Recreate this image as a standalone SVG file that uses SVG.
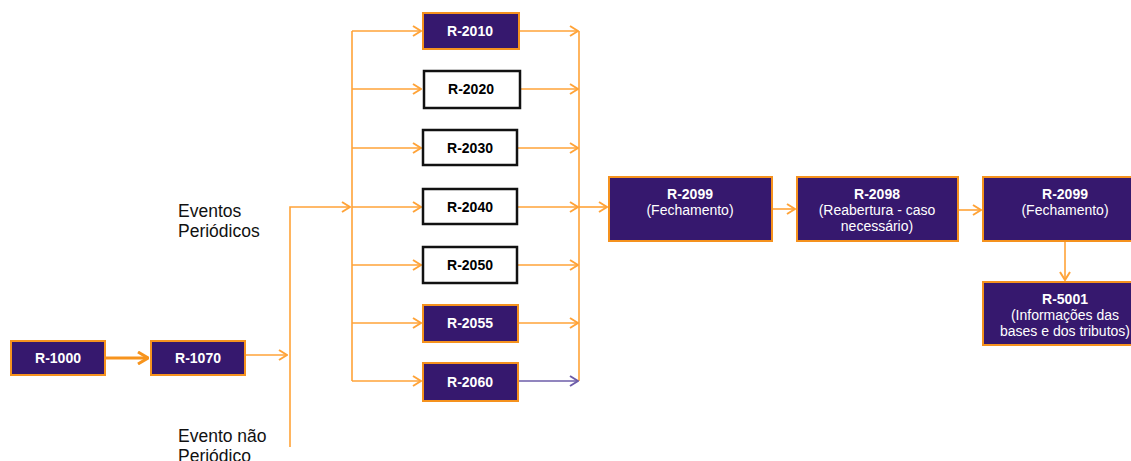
<svg xmlns="http://www.w3.org/2000/svg" width="1131" height="461" viewBox="0 0 1131 461">
<defs>
<marker id="ah" markerWidth="10" markerHeight="12" refX="9" refY="6" orient="auto" markerUnits="userSpaceOnUse">
<path d="M1,1 L9,6 L1,11" fill="none" stroke="#ffa338" stroke-width="2"/>
</marker>
<marker id="ahb" markerWidth="12" markerHeight="14" refX="11" refY="7" orient="auto" markerUnits="userSpaceOnUse">
<path d="M1,1 L11,7 L1,13" fill="none" stroke="#f7941d" stroke-width="3"/>
</marker>
<marker id="ahp" markerWidth="10" markerHeight="12" refX="9" refY="6" orient="auto" markerUnits="userSpaceOnUse">
<path d="M1,1 L9,6 L1,11" fill="none" stroke="#6d5ca8" stroke-width="2"/>
</marker>
<style>
.p{fill:#36186e;stroke:#f5921e;stroke-width:2}
.w{fill:#ffffff;stroke:#111111;stroke-width:2.5}
.tb{font-family:"Liberation Sans",Arial,sans-serif;font-size:14px;font-weight:bold;text-anchor:middle}
.tr{font-family:"Liberation Sans",Arial,sans-serif;font-size:14px;text-anchor:middle;fill:#ffffff}
.lp{fill:#ffffff}
.lk{fill:#000000}
.lab{font-family:"Liberation Sans",Arial,sans-serif;font-size:17.5px;fill:#111111}
.c{fill:none;stroke:#ffa338;stroke-width:1.6}
</style>
</defs>
<g id="connectors">
<path class="c" d="M106,358 L148,358" stroke="#f7941d" stroke-width="3" style="stroke:#f7941d;stroke-width:3" marker-end="url(#ahb)"/>
<path class="c" d="M246,355 L287,355" marker-end="url(#ah)"/>
<path class="c" d="M290,447 L290,207 L350,207" marker-end="url(#ah)"/>
<path class="c" d="M352,31 L352,381"/>
<path class="c" d="M352,31 L421,31" marker-end="url(#ah)"/>
<path class="c" d="M352,89 L421,89" marker-end="url(#ah)"/>
<path class="c" d="M352,148 L421,148" marker-end="url(#ah)"/>
<path class="c" d="M352,207 L421,207" marker-end="url(#ah)"/>
<path class="c" d="M352,265 L421,265" marker-end="url(#ah)"/>
<path class="c" d="M352,323 L421,323" marker-end="url(#ah)"/>
<path class="c" d="M352,381 L421,381" marker-end="url(#ah)"/>
<path class="c" d="M579,31 L579,381"/>
<path class="c" d="M519,31 L578,31" marker-end="url(#ah)"/>
<path class="c" d="M521,89 L578,89" marker-end="url(#ah)"/>
<path class="c" d="M518,148 L578,148" marker-end="url(#ah)"/>
<path class="c" d="M518,207 L578,207" marker-end="url(#ah)"/>
<path class="c" d="M579,207 L607,207" marker-end="url(#ah)"/>
<path class="c" d="M518,265 L578,265" marker-end="url(#ah)"/>
<path class="c" d="M518,323 L578,323" marker-end="url(#ah)"/>
<path class="c" d="M519,381 L578,381" style="stroke:#6d5ca8" marker-end="url(#ahp)"/>
<path class="c" d="M772,209 L795,209" marker-end="url(#ah)"/>
<path class="c" d="M958,210 L981,210" marker-end="url(#ah)"/>
<path class="c" d="M1065,241 L1065,280" marker-end="url(#ah)"/>
</g>
<g id="R-1000"><rect class="p" x="11" y="341" width="94" height="34"/><text class="tb lp" x="58" y="363">R-1000</text></g>
<g id="R-1070"><rect class="p" x="151" y="341" width="94" height="34"/><text class="tb lp" x="198" y="363">R-1070</text></g>
<g id="label-periodicos"><text class="lab" x="178" y="217">Eventos</text><text class="lab" x="178" y="237">Periódicos</text></g>
<g id="label-nao-periodico"><text class="lab" x="178" y="442">Evento não</text><text class="lab" x="178" y="462">Periódico</text></g>
<g id="R-2010"><rect class="p" x="423" y="13" width="96" height="36"/><text class="tb lp" x="470" y="36">R-2010</text></g>
<g id="R-2020"><rect class="w" x="424" y="71" width="96" height="37"/><text class="tb lk" x="471" y="94">R-2020</text></g>
<g id="R-2030"><rect class="w" x="423" y="130" width="94" height="35"/><text class="tb lk" x="470" y="153">R-2030</text></g>
<g id="R-2040"><rect class="w" x="423" y="189" width="94" height="35"/><text class="tb lk" x="470" y="212">R-2040</text></g>
<g id="R-2050"><rect class="w" x="423" y="247" width="94" height="36"/><text class="tb lk" x="470" y="270">R-2050</text></g>
<g id="R-2055"><rect class="p" x="423" y="305" width="95" height="37"/><text class="tb lp" x="470" y="328">R-2055</text></g>
<g id="R-2060"><rect class="p" x="423" y="363" width="95" height="38"/><text class="tb lp" x="470" y="387">R-2060</text></g>
<g id="R-2099a"><rect class="p" x="609" y="177" width="163" height="64"/><text class="tb lp" x="690" y="199">R-2099</text><text class="tr" x="690" y="215">(Fechamento)</text></g>
<g id="R-2098"><rect class="p" x="797" y="177" width="161" height="64"/><text class="tb lp" x="877" y="199">R-2098</text><text class="tr" x="877" y="215">(Reabertura - caso</text><text class="tr" x="877" y="231">necessário)</text></g>
<g id="R-2099b"><rect class="p" x="983" y="177" width="165" height="64"/><text class="tb lp" x="1065" y="199">R-2099</text><text class="tr" x="1065" y="215">(Fechamento)</text></g>
<g id="R-5001"><rect class="p" x="983" y="282" width="165" height="63"/><text class="tb lp" x="1065" y="304">R-5001</text><text class="tr" x="1065" y="320">(Informações das</text><text class="tr" x="1065" y="336">bases e dos tributos)</text></g>
</svg>
